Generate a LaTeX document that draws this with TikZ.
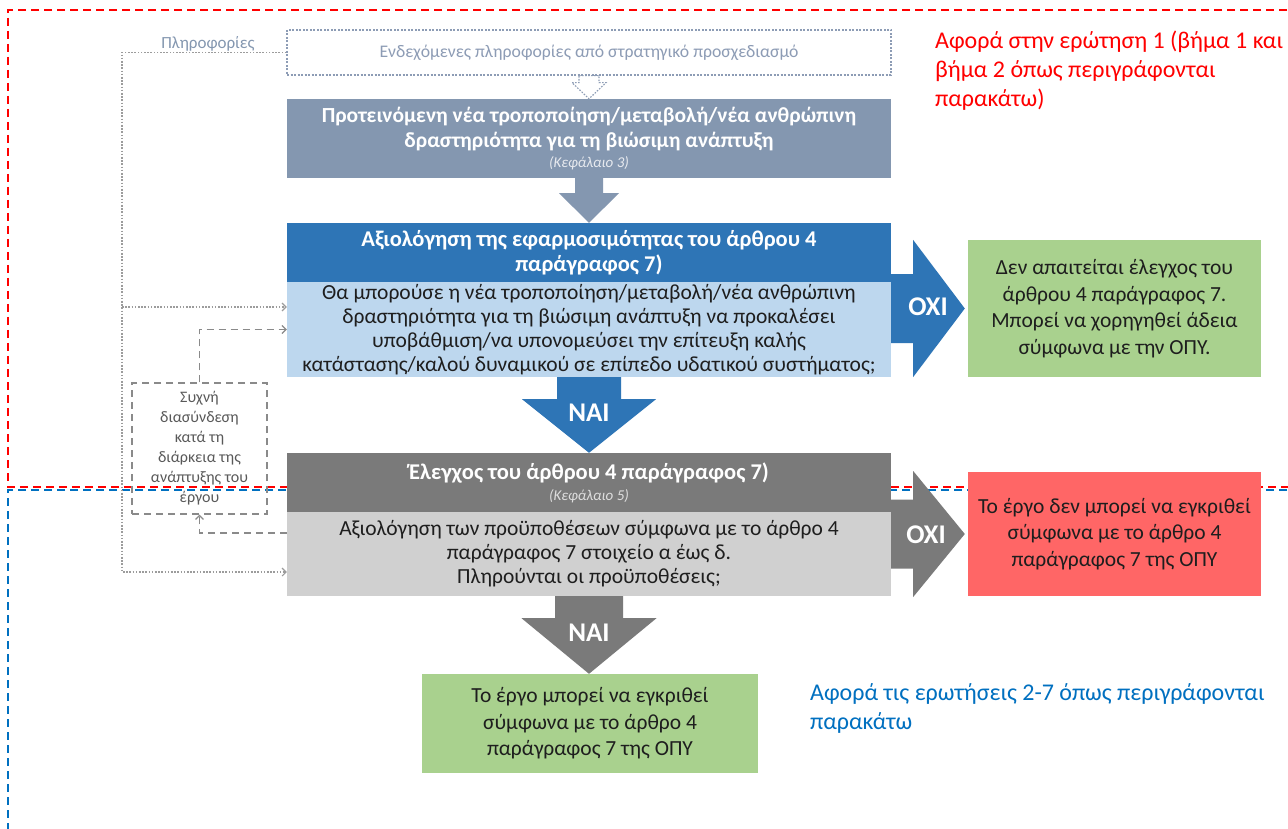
\documentclass[tikz,border=0pt]{standalone}
\usepackage{fontspec}
\setmainfont{Carlito}
\usetikzlibrary{arrows.meta,calc}

\definecolor{slate}{HTML}{8497B0}
\definecolor{bluedark}{HTML}{2E75B6}
\definecolor{bluelight}{HTML}{BDD7EE}
\definecolor{greydark}{HTML}{7A7A7A}
\definecolor{greylight}{HTML}{D0D0D0}
\definecolor{okgreen}{HTML}{A9D18E}
\definecolor{nored}{HTML}{FF6666}
\definecolor{notered}{HTML}{FF0000}
\definecolor{noteblue}{HTML}{0070C0}
\definecolor{inktext}{HTML}{1E1E1E}
\definecolor{linegrey}{HTML}{8A8A8A}
\definecolor{infogrey}{HTML}{8D9CB5}
\definecolor{hubtext}{HTML}{595959}

\newcommand\fs[2]{\fontsize{#1pt}{#2pt}\selectfont}

% downward block arrow: start, tip, shaft half width, head half width, shaft length, style
\newcommand\blockdown[6]{%
  \path[#6] let \p1=(#1), \p2=(#2) in
    (\x1-#3pt,\y1) -- (\x1+#3pt,\y1) -- (\x1+#3pt,\y1-#5pt) -- (\x1+#4pt,\y1-#5pt)
    -- (\x1,\y2) -- (\x1-#4pt,\y1-#5pt) -- (\x1-#3pt,\y1-#5pt) -- cycle;}
% rightward block arrow: start, tip, shaft half height, head half height, shaft length, style
\newcommand\blockright[6]{%
  \path[#6] let \p1=(#1), \p2=(#2) in
    (\x1,\y1+#3pt) -- (\x1+#5pt,\y1+#3pt) -- (\x1+#5pt,\y1+#4pt) -- (\x2,\y1)
    -- (\x1+#5pt,\y1-#4pt) -- (\x1+#5pt,\y1-#3pt) -- (\x1,\y1-#3pt) -- cycle;}

\tikzset{
  box/.style={rectangle, inner sep=0pt, align=center, draw=none},
  boxtext/.style={text=inktext, font=\fs{21.5}{24}},
  headtext/.style={text=white, font=\bfseries\fs{22.5}{25}},
  endtext/.style={text=inktext, font=\fs{21.5}{26.5}},
  arrowlabel/.style={text=white, font=\bfseries\fs{27}{30}, inner sep=0pt},
  dotline/.style={draw=linegrey!85, line width=1.1pt, dash pattern=on 1.6pt off 1.6pt},
  hubline/.style={draw=linegrey, line width=1.2pt, dash pattern=on 7pt off 5pt},
  tip/.style={-{Straight Barb[length=4pt,width=8pt]}},
  note/.style={align=left, anchor=north west, inner sep=0pt, font=\fs{24}{29}},
  region/.style={line width=1.5pt, dash pattern=on 8pt off 5pt}
}

\begin{document}
\begin{tikzpicture}[x=1pt,y=-1pt]
\useasboundingbox (0,0) rectangle (1288,829);
\fill[white] (0,0) rectangle (1288,829);

% scope regions of the two questions
\draw[region, notered] (1300,10) -- (8,10) -- (8,487) -- (1300,487);
\draw[region, noteblue] (1300,490) -- (8,490) -- (8,840);

% boxes of the flow
\node[box, draw=infogrey, line width=1.3pt, dash pattern=on 2pt off 1.5pt,
      minimum width=604pt, minimum height=45pt, text=infogrey, font=\fs{17.7}{20}]
  (info) at (589,52.5) {Ενδεχόμενες πληροφορίες από στρατηγικό προσχεδιασμό};
\node[box, fill=slate, minimum width=604pt, minimum height=79pt, text=white,
      font=\bfseries\fs{21.5}{25}] (prop) at (589,138.5)
  {Προτεινόμενη νέα τροποποίηση/μεταβολή/νέα ανθρώπινη\\
   δραστηριότητα για τη βιώσιμη ανάπτυξη\\[-5pt]
   {\mdseries\itshape\fs{15}{16}\color{white!80!slate}(Κεφάλαιο 3)}};
\node[box, fill=bluedark, minimum width=604pt, minimum height=59pt, headtext] (asshead) at (589,252.5)
  {Αξιολόγηση της εφαρμοσιμότητας του άρθρου 4\\ παράγραφος 7)};
\node[box, fill=bluelight, minimum width=604pt, minimum height=95pt, boxtext] (assbody) at (589,329.5)
  {Θα μπορούσε η νέα τροποποίηση/μεταβολή/νέα ανθρώπινη\\
   δραστηριότητα για τη βιώσιμη ανάπτυξη να προκαλέσει\\
   υποβάθμιση/να υπονομεύσει την επίτευξη καλής\\
   κατάστασης/καλού δυναμικού σε επίπεδο υδατικού συστήματος;};
\node[box, fill=greydark, minimum width=604pt, minimum height=59pt, headtext] (chkhead) at (589,482.5)
  {Έλεγχος του άρθρου 4 παράγραφος 7)\\[-4pt]
   {\mdseries\itshape\fs{15}{16}\color{white!75!greydark}(Κεφάλαιο 5)}};
\node[box, fill=greylight, minimum width=604pt, minimum height=84pt, boxtext] (chkbody) at (589,554)
  {Αξιολόγηση των προϋποθέσεων σύμφωνα με το άρθρο 4\\
   παράγραφος 7 στοιχείο α έως δ.\\
   Πληρούνται οι προϋποθέσεις;};
\node[box, fill=okgreen, minimum width=293pt, minimum height=137pt, endtext] (nocheck) at (1114.5,308.5)
  {Δεν απαιτείται έλεγχος του\\ άρθρου 4 παράγραφος 7.\\
   Μπορεί να χορηγηθεί άδεια\\ σύμφωνα με την ΟΠΥ.};
\node[box, fill=nored, minimum width=293pt, minimum height=124pt, endtext] (reject) at (1114.5,534)
  {Το έργο δεν μπορεί να εγκριθεί\\ σύμφωνα με το άρθρο 4\\ παράγραφος 7 της ΟΠΥ};
\node[box, fill=okgreen, minimum width=336pt, minimum height=99pt, endtext] (approve) at (590,723.5)
  {Το έργο μπορεί να εγκριθεί\\ σύμφωνα με το άρθρο 4\\ παράγραφος 7 της ΟΠΥ};

% interaction box on the left
\node[box, draw=linegrey, line width=1.2pt, dash pattern=on 7pt off 5pt,
      minimum width=135pt, minimum height=131pt, text=hubtext, font=\fs{16}{20}]
  (hub) at (199.5,448.5)
  {Συχνή\\ διασύνδεση\\ κατά τη\\ διάρκεια της\\ ανάπτυξης του\\ έργου};

% block arrows
\blockdown{info.south}{prop.north}{10}{17}{7}{draw=infogrey, line width=1.1pt, dash pattern=on 1.6pt off 1.4pt}
\blockdown{prop.south}{asshead.north}{14}{30}{15}{fill=slate}
\coordinate (oxione) at (assbody.east |- nocheck.west);
\coordinate (oxitwo) at (chkbody.east |- reject.west);
\blockright{oxione}{$(nocheck.west)+(-3,0)$}{34.5}{68.5}{22}{fill=bluedark}
\blockright{oxitwo}{$(reject.west)+(-3,0)$}{34.5}{63}{22}{fill=greydark}
\blockdown{assbody.south}{chkhead.north}{32}{67}{22}{fill=bluedark}
\blockdown{chkbody.south}{approve.north}{34}{67.5}{22}{fill=greydark}

\node[arrowlabel] (oxiA) at (928,307) {ΟΧΙ};
\node[arrowlabel] (oxiB) at (926,535) {ΟΧΙ};
\node[arrowlabel] (naiA) at (589,413) {ΝΑΙ};
\node[arrowlabel] (naiB) at (589,633) {ΝΑΙ};

% information feedback, dotted
\node[text=slate, font=\fs{17}{18}, inner sep=0pt] (infolabel) at (208,44) {Πληροφορίες};
\coordinate (fbtop) at (122,52.5);
\coordinate (fbmid) at (122,307);
\coordinate (fbbot) at (122,572);
\draw[dotline, tip] (info.west) -- (fbtop) -- (fbbot) -- (fbbot -| chkbody.west);
\draw[dotline, tip] (fbmid) -- (fbmid -| assbody.west);

% interaction links, dashed
\coordinate (hubout) at ($(chkbody.west)+(0,-21)$);
\draw[hubline, tip] (hub.north) |- (assbody.west);
\draw[hubline, tip] (hubout) -| (hub.south);

% notes on the scope of each region
\node[note, text=notered] (noteone) at (935,31)
  {Αφορά στην ερώτηση 1 (βήμα 1 και\\ βήμα 2 όπως περιγράφονται\\ παρακάτω)};
\node[note, text=noteblue] (notetwo) at (810,683)
  {Αφορά τις ερωτήσεις 2-7 όπως περιγράφονται\\ παρακάτω};
\end{tikzpicture}
\end{document}
